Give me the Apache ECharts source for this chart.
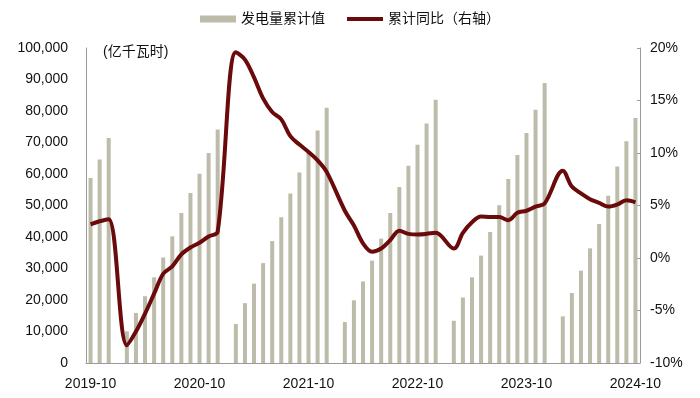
<!DOCTYPE html>
<html>
<head>
<meta charset="utf-8">
<script src="https://cdn.jsdelivr.net/npm/echarts@6/dist/echarts.min.js"></script>
<style>
  html, body { margin: 0; padding: 0; background: #fff; }
  #chart { width: 700px; height: 398px; }
</style>
</head>
<body>
<div id="chart"></div>
<script>
// months 2019-10 .. 2024-10
const months = [
  '2019-10','2019-11','2019-12',
  '2020-01','2020-02','2020-03','2020-04','2020-05','2020-06','2020-07','2020-08','2020-09','2020-10','2020-11','2020-12',
  '2021-01','2021-02','2021-03','2021-04','2021-05','2021-06','2021-07','2021-08','2021-09','2021-10','2021-11','2021-12',
  '2022-01','2022-02','2022-03','2022-04','2022-05','2022-06','2022-07','2022-08','2022-09','2022-10','2022-11','2022-12',
  '2023-01','2023-02','2023-03','2023-04','2023-05','2023-06','2023-07','2023-08','2023-09','2023-10','2023-11','2023-12',
  '2024-01','2024-02','2024-03','2024-04','2024-05','2024-06','2024-07','2024-08','2024-09','2024-10'
];

// 发电量累计值 (亿千瓦时), January not reported
const genCum = [
  58700, 64600, 71400,
  null, 10050, 15900, 21200, 27200, 33500, 40200, 47600, 54000, 60100, 66700, 74100,
  null, 12400, 19000, 25200, 31700, 38700, 46300, 53800, 60500, 66700, 73800, 81000,
  null, 13000, 19900, 25900, 32500, 39500, 47600, 55900, 62600, 69300, 76000, 83600,
  null, 13400, 20800, 27200, 34100, 41600, 50100, 58400, 66000, 73000, 80400, 88900,
  null, 14800, 22200, 29300, 36400, 44100, 53100, 62400, 70400, 77800
];

// 累计同比 (%)
const yoyCum = [
  3.2, 3.5, 3.7,
  null, -8.3, -7.0, -5.3, -3.4, -1.5, -0.8, 0.35, 1.0, 1.45, 2.05, 2.5,
  null, 19.6, 18.9, 17.2, 15.2, 13.9, 13.2, 11.6, 10.8, 10.1, 9.3, 8.2,
  null, 4.5, 3.1, 1.4, 0.6, 0.9, 1.7, 2.6, 2.3, 2.25, 2.3, 2.4,
  null, 0.9, 2.4, 3.4, 3.95, 3.9, 3.9, 3.6, 4.3, 4.5, 4.9, 5.2,
  null, 8.3, 6.8, 6.15, 5.6, 5.25, 4.9, 5.1, 5.5, 5.3
];

const FONT = 'Liberation Sans, Arial, Noto Sans CJK SC, sans-serif';
const axisGrey = '#9a9a9a';

const chart = echarts.init(document.getElementById('chart'));

chart.setOption({
  animation: false,
  textStyle: { fontFamily: FONT, color: '#111' },
  legend: {
    top: 7,
    left: 'center',
    itemWidth: 36,
    itemHeight: 7,
    itemGap: 22,
    textStyle: { fontSize: 14, color: '#111', fontFamily: FONT },
    data: [
      { name: '发电量累计值', icon: 'rect' },
      // plain thick line, no marker
      { name: '累计同比（右轴）', icon: 'path://M0,0 L36,0 L36,4 L0,4 Z' }
    ]
  },
  graphic: [{
    type: 'text',
    left: 103,
    top: 45,
    style: { text: '(亿千瓦时)', fontSize: 14, fill: '#111', fontFamily: FONT }
  }],
  grid: { left: 86, right: 60, top: 48, bottom: 35 },
  xAxis: {
    type: 'category',
    data: months,
    boundaryGap: true,
    axisLine: { lineStyle: { color: axisGrey, width: 1 } },
    axisTick: { interval: 11, length: 4, lineStyle: { color: axisGrey } },
    axisLabel: { interval: 11, margin: 14, fontSize: 14, color: '#111' }
  },
  yAxis: [
    {
      type: 'value',
      min: 0, max: 100000, interval: 10000,
      splitLine: { show: false },
      axisLine: { show: true, lineStyle: { color: axisGrey } },
      axisTick: { show: false },
      axisLabel: {
        fontSize: 14, color: '#111', margin: 18,
        formatter: v => String(v).replace(/\B(?=(\d{3})+(?!\d))/g, ',')
      }
    },
    {
      type: 'value',
      min: -10, max: 20, interval: 5,
      splitLine: { show: false },
      axisLine: { show: true, lineStyle: { color: axisGrey } },
      axisTick: { show: true, inside: true, length: 3, lineStyle: { color: axisGrey } },
      axisLabel: { fontSize: 14, color: '#111', margin: 10, formatter: '{value}%' }
    }
  ],
  series: [
    {
      name: '发电量累计值',
      type: 'bar',
      data: genCum,
      barWidth: 4,
      itemStyle: { color: '#BDBCAA' }
    },
    {
      name: '累计同比（右轴）',
      type: 'line',
      yAxisIndex: 1,
      data: yoyCum,
      connectNulls: true,
      smooth: 0.35,
      symbol: 'none',
      lineStyle: { color: '#6B0A0A', width: 4 },
      itemStyle: { color: '#6B0A0A' },
      z: 5
    }
  ]
});
</script>
</body>
</html>
